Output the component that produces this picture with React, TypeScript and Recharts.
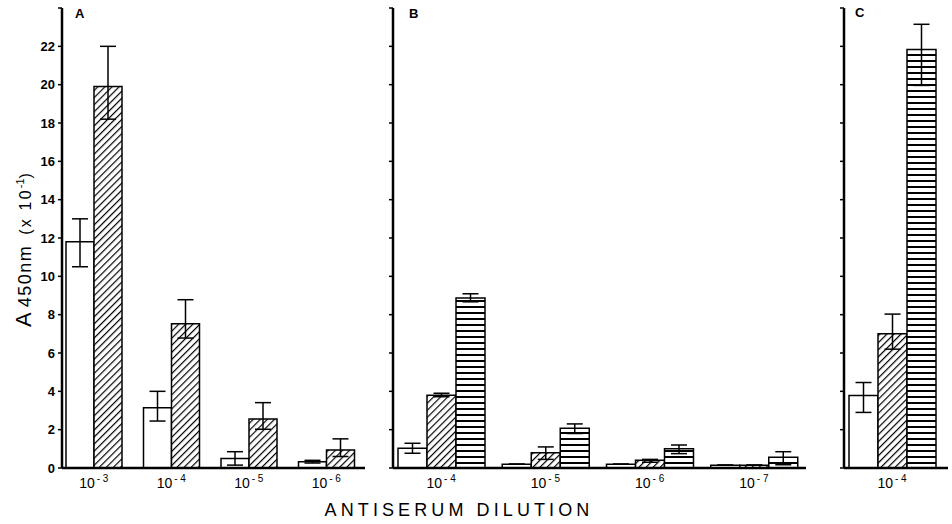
import { BarChart, Bar, XAxis, YAxis, ErrorBar } from "recharts";

// panel A: two antisera, dilutions 10^-3 .. 10^-6
const dilA = ["-3", "-4", "-5", "-6"];
const openA = [11.8, 3.15, 0.49, 0.33];
const openA_lo = [10.5, 2.45, 0.15, 0.26];
const openA_hi = [13.0, 4.0, 0.85, 0.4];
const hatchA = [19.9, 7.52, 2.56, 0.94];
const hatchA_lo = [18.2, 6.78, 2.02, 0.6];
const hatchA_hi = [22.0, 8.78, 3.41, 1.52];

// panel B: three antisera, 10^-4 .. 10^-7
const dilB = ["-4", "-5", "-6", "-7"];
const openB = [1.03, 0.2, 0.2, 0.15];
const openB_lo = [0.77, 0.2, 0.2, 0.15];
const openB_hi = [1.29, 0.2, 0.2, 0.15];
const hatchB = [3.8, 0.8, 0.4, 0.15];
const hatchB_lo = [3.72, 0.45, 0.3, 0.15];
const hatchB_hi = [3.9, 1.1, 0.45, 0.15];
const stripeB = [8.87, 2.08, 1.0, 0.56];
const stripeB_lo = [8.67, 1.8, 0.75, 0.17];
const stripeB_hi = [9.09, 2.3, 1.2, 0.85];

// panel C: 10^-4 only
const dilC = ["-4"];
const openC = [3.78];
const openC_lo = [2.9];
const openC_hi = [4.46];
const hatchC = [7.0];
const hatchC_lo = [6.2];
const hatchC_hi = [8.03];
const stripeC = [21.84];
const stripeC_lo = [19.96];
const stripeC_hi = [23.15];

const yTicks = [0, 2, 4, 6, 8, 10, 12, 14, 16, 18, 20, 22, 24];

const err = (v: number[], lo: number[], hi: number[], i: number) => [
  Math.max(0, v[i] - lo[i]),
  Math.max(0, hi[i] - v[i]),
];

const rowsA = dilA.map((d, i) => ({
  d,
  open: openA[i],
  openErr: err(openA, openA_lo, openA_hi, i),
  hatch: hatchA[i],
  hatchErr: err(hatchA, hatchA_lo, hatchA_hi, i),
}));
const rowsB = dilB.map((d, i) => ({
  d,
  open: openB[i],
  openErr: err(openB, openB_lo, openB_hi, i),
  hatch: hatchB[i],
  hatchErr: err(hatchB, hatchB_lo, hatchB_hi, i),
  stripe: stripeB[i],
  stripeErr: err(stripeB, stripeB_lo, stripeB_hi, i),
}));
const rowsC = dilC.map((d, i) => ({
  d,
  open: openC[i],
  openErr: err(openC, openC_lo, openC_hi, i),
  hatch: hatchC[i],
  hatchErr: err(hatchC, hatchC_lo, hatchC_hi, i),
  stripe: stripeC[i],
  stripeErr: err(stripeC, stripeC_lo, stripeC_hi, i),
}));

const FONT = "'Liberation Sans', Arial, sans-serif";

const PowerTick = (props: any) => {
  const { x, y, payload } = props;
  return (
    <text x={x} y={y + 12} textAnchor="middle" fontFamily={FONT} fontSize={14} fill="#000">
      10
      <tspan dy={-6} fontSize={10}>
        {"\u2009" + payload.value.replace("-", "- ")}
      </tspan>
    </text>
  );
};

const yAxisStyle = {
  axisLine: { stroke: "#000", strokeWidth: 2.5 },
  tickLine: { stroke: "#000", strokeWidth: 1.5 },
  tickSize: 4,
  tickMargin: 3,
  domain: [0, 24] as [number, number],
  ticks: yTicks,
  interval: 0 as const,
};

const xAxisStyle = {
  dataKey: "d",
  axisLine: { stroke: "#000", strokeWidth: 2.5 },
  tickLine: false,
  tick: <PowerTick />,
  interval: 0 as const,
};

const barStyle = { stroke: "#000", strokeWidth: 1.5, isAnimationActive: false };
const ebStyle = { stroke: "#000", strokeWidth: 1.5, width: 8 };

export default function App() {
  return (
    <div style={{ position: "absolute", left: 0, top: 0, width: 952, height: 524, background: "#fff" }}>
      <svg width={0} height={0} style={{ position: "absolute" }}>
        <defs>
          <pattern id="hatch" width={5} height={5} patternUnits="userSpaceOnUse" patternTransform="rotate(45)">
            <rect width={5} height={5} fill="#fff" />
            <line x1={0} y1={0} x2={0} y2={5} stroke="#000" strokeWidth={2.4} />
          </pattern>
          <pattern id="stripe" width={6} height={6} patternUnits="userSpaceOnUse">
            <rect width={6} height={6} fill="#fff" />
            <line x1={0} y1={1} x2={6} y2={1} stroke="#000" strokeWidth={2} />
          </pattern>
        </defs>
      </svg>

      <div style={{ position: "absolute", left: 0, top: 0 }}>
        <BarChart width={370} height={524} data={rowsA} barGap={0} barSize={28}
          margin={{ top: 8, right: 5, bottom: 26, left: 0 }}>
          <XAxis {...xAxisStyle} padding={{ left: -7, right: 0 }} />
          <YAxis {...yAxisStyle} width={62}
            tick={{ fill: "#000", fontSize: 13, fontWeight: 700, fontFamily: FONT }}
            tickFormatter={(v: number) => (v === 24 ? "" : String(v))} />
          <Bar dataKey="open" fill="#fff" {...barStyle}>
            <ErrorBar dataKey="openErr" {...ebStyle} />
          </Bar>
          <Bar dataKey="hatch" fill="url(#hatch)" {...barStyle}>
            <ErrorBar dataKey="hatchErr" {...ebStyle} />
          </Bar>
        </BarChart>
      </div>

      <div style={{ position: "absolute", left: 370, top: 0 }}>
        <BarChart width={438} height={524} data={rowsB} barGap={0} barSize={29}
          margin={{ top: 8, right: 2, bottom: 26, left: 0 }}>
          <XAxis {...xAxisStyle} padding={{ left: -4, right: 0 }} />
          <YAxis {...yAxisStyle} width={23} tickFormatter={() => ""} />
          <Bar dataKey="open" fill="#fff" {...barStyle}>
            <ErrorBar dataKey="openErr" {...ebStyle} />
          </Bar>
          <Bar dataKey="hatch" fill="url(#hatch)" {...barStyle}>
            <ErrorBar dataKey="hatchErr" {...ebStyle} />
          </Bar>
          <Bar dataKey="stripe" fill="url(#stripe)" {...barStyle}>
            <ErrorBar dataKey="stripeErr" {...ebStyle} />
          </Bar>
        </BarChart>
      </div>

      <div style={{ position: "absolute", left: 810, top: 0 }}>
        <BarChart width={142} height={524} data={rowsC} barGap={0} barSize={29}
          margin={{ top: 8, right: 4, bottom: 26, left: 0 }}>
          <XAxis {...xAxisStyle} padding={{ left: 0, right: 8 }} />
          <YAxis {...yAxisStyle} width={34} tickFormatter={() => ""} />
          <Bar dataKey="open" fill="#fff" {...barStyle}>
            <ErrorBar dataKey="openErr" {...ebStyle} />
          </Bar>
          <Bar dataKey="hatch" fill="url(#hatch)" {...barStyle}>
            <ErrorBar dataKey="hatchErr" {...ebStyle} />
          </Bar>
          <Bar dataKey="stripe" fill="url(#stripe)" {...barStyle}>
            <ErrorBar dataKey="stripeErr" {...ebStyle} />
          </Bar>
        </BarChart>
      </div>

      <svg width={952} height={524} style={{ position: "absolute", left: 0, top: 0, pointerEvents: "none" }}>
        <g fontFamily={FONT} fontWeight={700} fontSize={13} fill="#000">
          <text x={75} y={18}>A</text>
          <text x={409} y={18}>B</text>
          <text x={855} y={17}>C</text>
        </g>
        <text transform="translate(31, 327) rotate(-90)" fontFamily={FONT} fill="#000">
          <tspan fontSize={22}>A</tspan>
          <tspan fontSize={18} dx={5} letterSpacing={1.5}>450nm</tspan>
          <tspan fontSize={16} dx={10} letterSpacing={2.2}>(x 10</tspan>
          <tspan fontSize={11} dy={-7}>-1</tspan>
          <tspan fontSize={16} dy={7}>)</tspan>
        </text>
        <text x={459} y={516} textAnchor="middle" fontFamily={FONT} fontSize={18}
          letterSpacing={4.1} fill="#000">
          ANTISERUM DILUTION
        </text>
      </svg>
    </div>
  );
}
